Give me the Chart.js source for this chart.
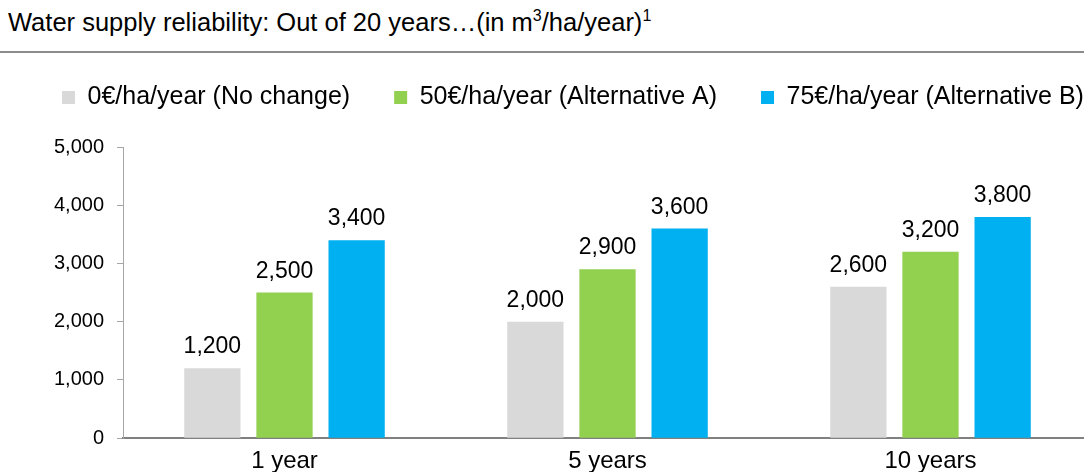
<!DOCTYPE html>
<html>
<head>
<meta charset="utf-8">
<script src="https://cdn.jsdelivr.net/npm/chart.js@4.4.1/dist/chart.umd.min.js"></script>
<style>
  html, body { margin: 0; padding: 0; background: #fff; overflow: hidden; }
  body { width: 1084px; height: 472px; position: relative; font-family: "Liberation Sans", Arial, sans-serif; }
  #title { position: absolute; left: 8px; top: 8px; font-size: 25.5px; color: #000; white-space: nowrap; }
  #title sup { font-size: 16px; vertical-align: 10px; line-height: 0; }
  #rule { position: absolute; left: 0; top: 51px; width: 1084px; height: 2px; background: #8c8c8c; }
  #chart-box { position: absolute; left: 0; top: 0; width: 1092px; height: 485px; }
</style>
</head>
<body>
<div id="title">Water supply reliability: Out of 20 years…(in m<sup>3</sup>/ha/year)<sup>1</sup></div>
<div id="rule"></div>
<div id="chart-box"><canvas id="chart"></canvas></div>
<script>
// Categories and series
const categories = ['1 year', '5 years', '10 years'];
const seriesNames = ['0€/ha/year (No change)', '50€/ha/year (Alternative A)', '75€/ha/year (Alternative B)'];
const noChange = [1200, 2000, 2600];
const alternativeA = [2500, 2900, 3200];
const alternativeB = [3400, 3600, 3800];
const seriesColors = ['#D9D9D9', '#92D050', '#00B0F0'];

Chart.defaults.font.family = '"Liberation Sans", Arial, sans-serif';
Chart.defaults.color = '#000';

// Writes the value above each bar
const valueLabels = {
    id: 'valueLabels',
    afterDatasetsDraw(chart) {
        const ctx = chart.ctx;
        ctx.save();
        ctx.font = '23px "Liberation Sans", Arial, sans-serif';
        ctx.fillStyle = '#000';
        ctx.textAlign = 'center';
        ctx.textBaseline = 'alphabetic';
        chart.data.datasets.forEach((ds, i) => {
            chart.getDatasetMeta(i).data.forEach((bar, j) => {
                ctx.fillText(ds.data[j].toLocaleString('en-US'), bar.x, bar.y - 15);
            });
        });
        ctx.restore();
    }
};

// Keeps the legend on one row and leaves some room between it and the plot
const legendGap = {
    id: 'legendGap',
    beforeInit(chart) {
        const legend = chart.legend;
        if (!legend) return;
        const fit = legend.fit;
        legend.fit = function () {
            const mw = this.maxWidth;
            this.maxWidth = 5000;
            fit.call(this);
            this.maxWidth = mw;
            this.width = Math.min(this.width, mw);
            this.height += 27;
        };
    },
    afterLayout(chart) {
        // the last item runs to the page edge, so don't let it wrap
        if (chart.legend) chart.legend.right += 200;
    }
};

const allSeries = [noChange, alternativeA, alternativeB];

new Chart(document.getElementById('chart'), {
    type: 'bar',
    data: {
        labels: categories,
        datasets: allSeries.map((values, i) => ({
            label: seriesNames[i],
            data: values,
            backgroundColor: seriesColors[i],
            borderWidth: 0,
            categoryPercentage: 0.67,
            barPercentage: 0.78
        }))
    },
    options: {
        responsive: true,
        maintainAspectRatio: false,
        animation: false,
        layout: {
            padding: { top: 41, left: 18, right: 0, bottom: 0 }
        },
        plugins: {
            legend: {
                position: 'top',
                align: 'start',
                labels: {
                    boxWidth: 13,
                    boxHeight: 13,
                    padding: 44,
                    color: '#000',
                    font: { size: 25 }
                }
            },
            tooltip: { enabled: false }
        },
        scales: {
            x: {
                grid: { display: false, drawTicks: false },
                border: { color: '#808080', width: 2 },
                ticks: { padding: 9, color: '#000', font: { size: 24 } }
            },
            y: {
                min: 0,
                max: 5000,
                afterFit(scale) { scale.width = 105; },
                grid: { drawOnChartArea: false, tickLength: 6, color: '#A6A6A6' },
                border: { color: '#A6A6A6', width: 1 },
                ticks: {
                    stepSize: 1000,
                    padding: 13,
                    color: '#000',
                    font: { size: 20 },
                    callback: v => v.toLocaleString('en-US')
                }
            }
        }
    },
    plugins: [valueLabels, legendGap]
});
</script>
</body>
</html>
